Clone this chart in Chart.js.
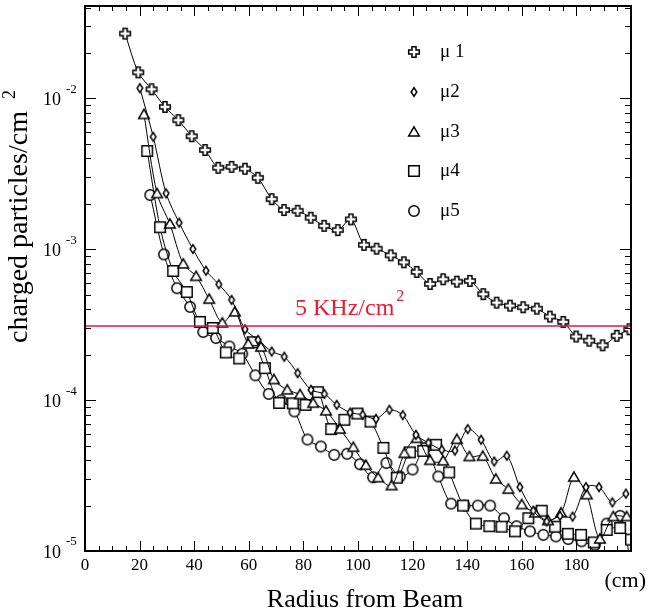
<!DOCTYPE html>
<html>
<head>
<meta charset="utf-8">
<script src="https://cdn.jsdelivr.net/npm/chart.js@4.4.0/dist/chart.umd.min.js"></script>
<style>
  html, body { margin: 0; padding: 0; background: #fff; }
  #wrap { position: relative; width: 647px; height: 613px; }
</style>
</head>
<body>
<div id="wrap"><canvas id="chart" width="647" height="613"></canvas></div>
<script>
// =====================================================================
// DATA
// =====================================================================
const seriesNames = ['\u03bc 1', '\u03bc2', '\u03bc3', '\u03bc4', '\u03bc5'];

const mu1Radius = [14.7, 19.5, 24.4, 29.3, 34.2, 39.1, 44.0, 48.8, 53.7, 58.6, 63.3, 68.4, 72.9, 77.9, 82.7, 87.6, 92.6, 97.4, 102.2, 106.8, 112.0, 116.8, 121.5, 126.4, 131.2, 136.2, 141.0, 145.9, 150.8, 155.7, 160.5, 165.5, 170.3, 175.2, 179.9, 184.7, 189.6, 194.8, 199.4];
const mu1Flux = [0.0269, 0.0149, 0.0115, 0.00879, 0.00718, 0.00562, 0.00455, 0.00347, 0.00352, 0.00342, 0.00298, 0.00215, 0.00182, 0.00180, 0.00162, 0.00143, 0.00134, 0.00158, 0.00107, 0.00101, 0.000912, 0.000820, 0.000708, 0.000589, 0.000633, 0.000610, 0.000617, 0.000504, 0.000443, 0.000423, 0.000413, 0.000404, 0.000358, 0.000330, 0.000264, 0.000248, 0.000231, 0.000267, 0.000295];

const mu2Radius = [20.1, 25.0, 29.7, 34.5, 39.5, 44.3, 49.0, 53.7, 58.6, 63.4, 68.4, 73.0, 77.9, 82.8, 87.7, 92.2, 97.1, 101.7, 106.6, 111.5, 116.4, 121.2, 125.8, 130.7, 135.5, 140.2, 145.1, 149.9, 154.5, 159.3, 164.2, 169.1, 174.0, 178.6, 183.5, 188.3, 193.2, 198.1];
const mu2Flux = [1.17e-2, 5.57e-3, 2.35e-3, 1.50e-3, 1.005e-3, 7.21e-4, 5.86e-4, 4.62e-4, 2.95e-4, 2.51e-4, 2.10e-4, 1.94e-4, 1.51e-4, 1.17e-4, 1.10e-4, 9.31e-5, 8.28e-5, 8.0e-5, 7.52e-5, 8.63e-5, 7.96e-5, 5.89e-5, 5.21e-5, 4.69e-5, 4.63e-5, 6.43e-5, 5.46e-5, 3.92e-5, 4.28e-5, 2.65e-5, 1.85e-5, 1.57e-5, 1.71e-5, 1.69e-5, 2.65e-5, 2.65e-5, 2.10e-5, 2.40e-5];

const mu3Radius = [21.6, 26.4, 31.1, 36.0, 40.7, 45.5, 50.3, 54.9, 59.8, 64.5, 69.2, 74.1, 78.8, 83.6, 88.3, 93.4, 98.3, 102.9, 107.4, 112.3, 117.0, 121.5, 126.4, 131.2, 136.2, 140.8, 145.7, 150.5, 155.1, 160.0, 164.8, 169.6, 174.4, 179.1, 183.8, 188.6, 193.5, 198.4];
const mu3Flux = [7.83e-3, 2.34e-3, 1.47e-3, 8.0e-4, 6.62e-4, 4.67e-4, 3.25e-4, 3.85e-4, 2.36e-4, 2.25e-4, 1.37e-4, 1.17e-4, 1.09e-4, 9.55e-5, 8.49e-5, 6.43e-5, 4.87e-5, 3.70e-5, 3.06e-5, 2.71e-5, 4.44e-5, 5.58e-5, 3.99e-5, 3.96e-5, 5.50e-5, 4.23e-5, 4.25e-5, 3.0e-5, 2.57e-5, 2.03e-5, 1.79e-5, 1.59e-5, 1.79e-5, 3.09e-5, 2.36e-5, 1.20e-5, 1.69e-5, 1.69e-5];

const mu4Radius = [22.8, 27.5, 32.3, 37.3, 42.1, 46.8, 51.6, 56.5, 61.4, 65.9, 71.1, 76.1, 80.8, 85.3, 90.2, 95.0, 99.8, 104.6, 109.3, 114.2, 119.0, 123.9, 128.6, 133.4, 138.5, 143.2, 148.1, 152.6, 157.5, 162.4, 167.3, 172.2, 176.9, 181.7, 186.4, 191.1, 196.0, 200.0];
const mu4Flux = [4.48e-3, 1.40e-3, 7.18e-4, 5.21e-4, 3.30e-4, 3.01e-4, 2.07e-4, 1.89e-4, 2.42e-4, 1.63e-4, 9.59e-5, 9.52e-5, 9.31e-5, 1.13e-4, 6.43e-5, 7.41e-5, 8.15e-5, 7.21e-5, 4.83e-5, 3.06e-5, 4.51e-5, 4.61e-5, 5.06e-5, 3.32e-5, 2.0e-5, 1.52e-5, 1.46e-5, 1.45e-5, 1.35e-5, 1.65e-5, 1.85e-5, 1.45e-5, 1.30e-5, 1.28e-5, 1.14e-5, 1.38e-5, 1.42e-5, 1.19e-5];

const mu5Radius = [23.9, 28.9, 33.7, 38.5, 43.3, 48.0, 52.9, 57.6, 62.4, 67.3, 71.9, 76.7, 81.5, 86.4, 91.3, 96.0, 100.7, 105.5, 110.4, 115.3, 120.0, 124.5, 129.4, 134.1, 139.0, 143.9, 148.4, 153.5, 158.1, 163.0, 167.9, 172.5, 177.0, 181.9, 186.8, 191.1, 196.0, 200.0];
const mu5Flux = [2.29e-3, 9.25e-4, 5.52e-4, 4.15e-4, 2.83e-4, 2.58e-4, 2.27e-4, 2.03e-4, 1.46e-4, 1.10e-4, 9.97e-5, 8.41e-5, 5.48e-5, 4.93e-5, 4.34e-5, 4.41e-5, 3.76e-5, 3.08e-5, 3.83e-5, 3.12e-5, 3.47e-5, 4.81e-5, 3.12e-5, 2.06e-5, 2.0e-5, 2.0e-5, 2.0e-5, 1.65e-5, 1.46e-5, 1.35e-5, 1.28e-5, 1.25e-5, 1.20e-5, 1.16e-5, 1.10e-5, 1.52e-5, 1.71e-5, 8.1e-6];

// 5 KHz/cm2 reference level
const limitRadius = [0, 200];
const limitFlux = [3.1e-4, 3.1e-4];

const xTickValues = [0, 20, 40, 60, 80, 100, 120, 140, 160, 180];
const xTickLabels = ['0', '20', '40', '60', '80', '100', '120', '140', '160', '180'];
const yTickValues = [1e-2, 1e-3, 1e-4, 1e-5];
const yTickExponents = ['-2', '-3', '-4', '-5'];

// =====================================================================
// MARKERS
// =====================================================================
const SERIF = '"Liberation Serif", "DejaVu Serif", serif';

function makeMarker(kind) {
    const s = 16, m = s / 2;
    const c = document.createElement('canvas');
    c.width = s; c.height = s;
    const g = c.getContext('2d');
    g.fillStyle = '#fff';
    g.strokeStyle = '#000';
    g.lineWidth = 1.5;
    g.beginPath();
    if (kind === 'cross') {
        const a = 2, r = 5.3;
        g.moveTo(m - a, m - r); g.lineTo(m + a, m - r); g.lineTo(m + a, m - a);
        g.lineTo(m + r, m - a); g.lineTo(m + r, m + a); g.lineTo(m + a, m + a);
        g.lineTo(m + a, m + r); g.lineTo(m - a, m + r); g.lineTo(m - a, m + a);
        g.lineTo(m - r, m + a); g.lineTo(m - r, m - a); g.lineTo(m - a, m - a);
        g.closePath();
    } else if (kind === 'diamond') {
        g.moveTo(m, m - 4.3); g.lineTo(m + 2.8, m); g.lineTo(m, m + 4.3); g.lineTo(m - 2.8, m);
        g.closePath();
    } else if (kind === 'triangle') {
        g.moveTo(m, m - 5.2); g.lineTo(m + 5.3, m + 4); g.lineTo(m - 5.3, m + 4);
        g.closePath();
    } else if (kind === 'square') {
        g.rect(m - 5.3, m - 5.3, 10.6, 10.6);
    } else {
        g.arc(m, m, 5.2, 0, Math.PI * 2);
    }
    g.fill();
    g.stroke();
    return c;
}

const markers = ['cross', 'diamond', 'triangle', 'square', 'circle'].map(makeMarker);

function toPoints(xs, ys) {
    return xs.map((x, i) => ({ x: x, y: ys[i] }));
}

const seriesData = [
    toPoints(mu1Radius, mu1Flux),
    toPoints(mu2Radius, mu2Flux),
    toPoints(mu3Radius, mu3Flux),
    toPoints(mu4Radius, mu4Flux),
    toPoints(mu5Radius, mu5Flux)
];

const datasets = [{
    label: '5 KHz/cm2',
    data: toPoints(limitRadius, limitFlux),
    borderColor: '#e5134f',
    borderWidth: 1.3,
    pointRadius: 0,
    tension: 0
}];
seriesData.forEach((pts, i) => {
    datasets.push({
        label: seriesNames[i],
        data: pts,
        borderColor: '#000',
        borderWidth: 1,
        pointStyle: markers[i],
        pointRadius: 5,
        tension: 0.3
    });
});

// =====================================================================
// AXES, TICKS, LABELS, LEGEND
// =====================================================================
const framePlugin = {
    id: 'frame',
    afterDatasetsDraw(chart) {
        const ctx = chart.ctx;
        const a = chart.chartArea;
        const xs = chart.scales.x, ys = chart.scales.y;
        ctx.save();
        ctx.strokeStyle = '#000';
        ctx.fillStyle = '#000';

        // inward ticks on all four sides
        ctx.lineWidth = 1;
        ctx.beginPath();
        for (let v = 5; v < 200; v += 5) {
            const px = Math.round(xs.getPixelForValue(v)) + 0.5;
            const len = v % 20 === 0 ? 10 : 5;
            ctx.moveTo(px, a.bottom); ctx.lineTo(px, a.bottom - len);
            ctx.moveTo(px, a.top); ctx.lineTo(px, a.top + len);
        }
        for (let e = -5; e <= -2; e++) {
            for (let k = 1; k <= 9; k++) {
                const v = k * Math.pow(10, e);
                if (v <= ys.min || v >= ys.max) continue;
                const py = Math.round(ys.getPixelForValue(v)) + 0.5;
                const len = k === 1 ? 11 : 6;
                ctx.moveTo(a.left, py); ctx.lineTo(a.left + len, py);
                ctx.moveTo(a.right, py); ctx.lineTo(a.right - len, py);
            }
        }
        ctx.stroke();

        // frame
        ctx.lineWidth = 2;
        ctx.strokeRect(a.left, a.top, a.right - a.left, a.bottom - a.top);

        // x tick labels
        ctx.font = '17px ' + SERIF;
        ctx.textAlign = 'center';
        ctx.textBaseline = 'middle';
        xTickValues.forEach((v, i) => {
            ctx.fillText(xTickLabels[i], xs.getPixelForValue(v), a.bottom + 15);
        });

        // y tick labels 10^n
        yTickValues.forEach((v, i) => {
            const py = ys.getPixelForValue(v);
            ctx.font = '18px ' + SERIF;
            ctx.textAlign = 'right';
            ctx.fillText('10', 61, py + 2);
            ctx.font = '13px ' + SERIF;
            ctx.textAlign = 'left';
            ctx.fillText(yTickExponents[i], 66, py - 9);
        });

        // axis titles
        ctx.font = '26px ' + SERIF;
        ctx.textAlign = 'center';
        ctx.fillText('Radius from Beam', 365, 600);
        ctx.font = '22px ' + SERIF;
        ctx.textAlign = 'right';
        ctx.fillText('(cm)', 646, 581);

        ctx.save();
        ctx.translate(20, 343);
        ctx.rotate(-Math.PI / 2);
        ctx.font = '28px ' + SERIF;
        ctx.textAlign = 'left';
        const yTitle = 'charged particles/cm';
        ctx.fillText(yTitle, 0, 0);
        const w = ctx.measureText(yTitle).width;
        ctx.font = '18px ' + SERIF;
        ctx.fillText('2', w + 12, -10);
        ctx.restore();

        // 5 KHz/cm2 label
        ctx.fillStyle = '#ec1c2e';
        ctx.font = '24px ' + SERIF;
        ctx.textAlign = 'left';
        const lbl = '5 KHz/cm';
        ctx.fillText(lbl, 295, 309);
        const lw = ctx.measureText(lbl).width;
        ctx.font = '16px ' + SERIF;
        ctx.fillText('2', 295 + lw + 2, 297);

        // legend
        ctx.fillStyle = '#000';
        ctx.font = '19px ' + SERIF;
        const legendY = [52, 92, 132, 171, 211];
        seriesNames.forEach((name, i) => {
            const m = markers[i];
            ctx.drawImage(m, 414 - m.width / 2, legendY[i] - m.height / 2);
            ctx.fillText(name, 440, legendY[i]);
        });
        ctx.restore();
    }
};

const chart = new Chart(document.getElementById('chart').getContext('2d'), {
    type: 'line',
    data: { datasets },
    options: {
        responsive: false,
        animation: false,
        devicePixelRatio: 1,
        layout: { padding: { left: 85, right: 16, top: 6, bottom: 62 } },
        plugins: {
            legend: { display: false },
            tooltip: { enabled: false }
        },
        scales: {
            x: { type: 'linear', min: 0, max: 200, display: false },
            y: { type: 'logarithmic', min: 1e-5, max: 0.041, display: false }
        }
    },
    plugins: [framePlugin]
});
</script>
</body>
</html>
